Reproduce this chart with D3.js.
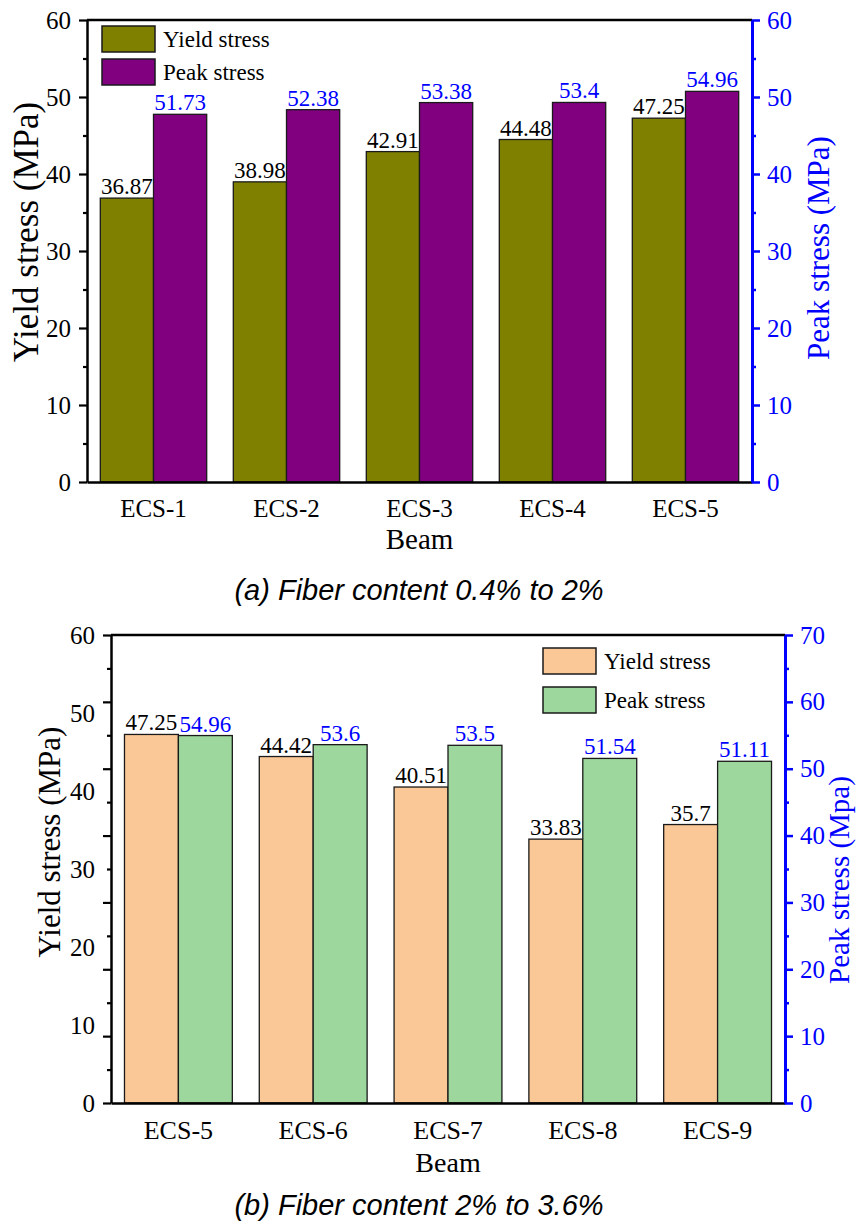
<!DOCTYPE html>
<html>
<head>
<meta charset="utf-8">
<script src="https://cdn.jsdelivr.net/npm/d3@7"></script>
<style>
  html, body { margin: 0; padding: 0; background: #fff; }
  svg { display: block; }
</style>
</head>
<body>
<svg id="chart" width="858" height="1226"></svg>
<script>
// ---------------- DATA ----------------
const categoriesA = ["ECS-1", "ECS-2", "ECS-3", "ECS-4", "ECS-5"];
const yieldA = [36.87, 38.98, 42.91, 44.48, 47.25];
const peakA = [51.73, 52.38, 53.38, 53.4, 54.96];
const leftTicksA = [0, 10, 20, 30, 40, 50, 60];
const rightTicksA = [0, 10, 20, 30, 40, 50, 60];
const peakBarDomainA = [0, 65];   // scale the peak bars were drawn against in (a)

const categoriesB = ["ECS-5", "ECS-6", "ECS-7", "ECS-8", "ECS-9"];
const yieldB = [47.25, 44.42, 40.51, 33.83, 35.7];
const peakB = [54.96, 53.6, 53.5, 51.54, 51.11];
const leftTicksB = [0, 10, 20, 30, 40, 50, 60];
const rightTicksB = [0, 10, 20, 30, 40, 50, 60, 70];

const seriesNames = ["Yield stress", "Peak stress"];
const captionA = "(a) Fiber content 0.4% to 2%";
const captionB = "(b) Fiber content 2% to 3.6%";

// ---------------- DRAW ----------------
const svg = d3.select("#chart");
const SERIF = "'Liberation Serif', 'Times New Roman', serif";
const SANS = "'Liberation Sans', Arial, sans-serif";
const BLUE = "#0000ff";

function minorValues(ticks) {
  const out = [];
  for (let i = 0; i < ticks.length - 1; i++) out.push((ticks[i] + ticks[i + 1]) / 2);
  return out;
}

function drawChart(cfg) {
  const g = svg.append("g");
  const x0 = d3.scaleBand().domain(cfg.categories)
    .range([cfg.left, cfg.right]).paddingInner(0.2).paddingOuter(0.1);
  const x1 = d3.scaleBand().domain([0, 1]).range([0, x0.bandwidth()]);

  const yLeft = d3.scaleLinear().domain([0, d3.max(cfg.leftTicks)]).range([cfg.bottom, cfg.top]);
  const yRight = d3.scaleLinear().domain([0, d3.max(cfg.rightTicks)]).range([cfg.bottom, cfg.top]);
  const yYieldBar = yLeft;
  const yPeakBar = cfg.peakBarDomain
    ? d3.scaleLinear().domain(cfg.peakBarDomain).range([cfg.bottom, cfg.top])
    : yRight;
  const yLeftMarks = cfg.leftMarksFollowRight ? yRight : yLeft;
  const leftMarkTicks = cfg.leftMarksFollowRight ? cfg.rightTicks : cfg.leftTicks;

  // bars
  const groups = g.selectAll("g.grp").data(cfg.categories).join("g")
    .attr("transform", d => `translate(${x0(d)},0)`);
  groups.append("rect")
    .attr("x", x1(0)).attr("width", x1.bandwidth())
    .attr("y", (d, i) => yYieldBar(cfg.yieldVals[i]))
    .attr("height", (d, i) => cfg.bottom - yYieldBar(cfg.yieldVals[i]))
    .attr("fill", cfg.colors[0]).attr("stroke", "#1a1a1a").attr("stroke-width", 1.3);
  groups.append("rect")
    .attr("x", x1(1)).attr("width", x1.bandwidth())
    .attr("y", (d, i) => yPeakBar(cfg.peakVals[i]))
    .attr("height", (d, i) => cfg.bottom - yPeakBar(cfg.peakVals[i]))
    .attr("fill", cfg.colors[1]).attr("stroke", "#1a1a1a").attr("stroke-width", 1.3);

  // value labels
  groups.append("text")
    .attr("x", x1(0) + x1.bandwidth() / 2)
    .attr("y", (d, i) => yYieldBar(cfg.yieldVals[i]) - 4)
    .attr("text-anchor", "middle").attr("font-family", SERIF).attr("font-size", cfg.valueSize)
    .attr("fill", "#000").text((d, i) => cfg.yieldVals[i]);
  groups.append("text")
    .attr("x", x1(1) + x1.bandwidth() / 2)
    .attr("y", (d, i) => yPeakBar(cfg.peakVals[i]) - 4)
    .attr("text-anchor", "middle").attr("font-family", SERIF).attr("font-size", cfg.valueSize)
    .attr("fill", BLUE).text((d, i) => cfg.peakVals[i]);

  // top frame line
  g.append("line").attr("x1", cfg.left).attr("x2", cfg.right)
    .attr("y1", cfg.top).attr("y2", cfg.top)
    .attr("stroke", "#000").attr("stroke-width", 2.5);

  // bottom axis
  const xAxis = g.append("g").attr("transform", `translate(0,${cfg.bottom})`)
    .call(d3.axisBottom(x0).tickSize(0).tickPadding(cfg.xTickPad));
  xAxis.select(".domain").attr("stroke", "#000").attr("stroke-width", 2.5);
  xAxis.selectAll("text").attr("font-family", SERIF).attr("font-size", cfg.catSize).attr("fill", "#000");

  // left axis: marks
  const leftMajor = g.append("g").attr("transform", `translate(${cfg.left},0)`)
    .call(d3.axisLeft(yLeftMarks).tickValues(leftMarkTicks).tickSize(8).tickSizeOuter(0).tickFormat(""));
  leftMajor.selectAll("line").attr("stroke", "#000").attr("stroke-width", 2.2);
  leftMajor.select(".domain").attr("stroke", "#000").attr("stroke-width", 2.5);
  const leftMinor = g.append("g").attr("transform", `translate(${cfg.left},0)`)
    .call(d3.axisLeft(yLeftMarks).tickValues(minorValues(leftMarkTicks)).tickSize(4).tickFormat(""));
  leftMinor.selectAll("line").attr("stroke", "#000").attr("stroke-width", 2.2);
  leftMinor.select(".domain").remove();
  // left axis: labels
  g.append("g").selectAll("text").data(cfg.leftTicks).join("text")
    .attr("x", cfg.left - 16).attr("y", d => yLeft(d)).attr("dy", "0.35em")
    .attr("text-anchor", "end").attr("font-family", SERIF).attr("font-size", cfg.tickSize)
    .attr("fill", "#000").text(d => d);

  // right axis
  const rightMajor = g.append("g").attr("transform", `translate(${cfg.right},0)`)
    .call(d3.axisRight(yRight).tickValues(cfg.rightTicks).tickSize(8).tickSizeOuter(0).tickPadding(7));
  rightMajor.selectAll("line").attr("stroke", BLUE).attr("stroke-width", 2.5);
  rightMajor.select(".domain").attr("stroke", BLUE).attr("stroke-width", 3);
  rightMajor.selectAll("text").attr("font-family", SERIF).attr("font-size", cfg.tickSize).attr("fill", BLUE);
  const rightMinor = g.append("g").attr("transform", `translate(${cfg.right},0)`)
    .call(d3.axisRight(yRight).tickValues(minorValues(cfg.rightTicks)).tickSize(4).tickFormat(""));
  rightMinor.selectAll("line").attr("stroke", BLUE).attr("stroke-width", 2.5);
  rightMinor.select(".domain").remove();

  // axis titles
  g.append("text")
    .attr("transform", `translate(${cfg.leftTitleX},${cfg.leftTitleY}) rotate(-90)`)
    .attr("text-anchor", "middle").attr("font-family", SERIF).attr("font-size", cfg.leftTitleSize)
    .attr("fill", "#000").text("Yield stress (MPa)");
  g.append("text")
    .attr("transform", `translate(${cfg.rightTitleX},${cfg.rightTitleY}) rotate(-90)`)
    .attr("text-anchor", "middle").attr("font-family", SERIF).attr("font-size", cfg.rightTitleSize)
    .attr("fill", BLUE).text(cfg.rightTitle);
  g.append("text")
    .attr("x", (cfg.left + cfg.right) / 2).attr("y", cfg.beamY)
    .attr("text-anchor", "middle").attr("font-family", SERIF).attr("font-size", cfg.beamSize)
    .attr("fill", "#000").text("Beam");

  // legend
  const lg = g.append("g");
  seriesNames.forEach((name, i) => {
    const yy = cfg.legendY + i * cfg.legendStep;
    lg.append("rect").attr("x", cfg.legendX).attr("y", yy)
      .attr("width", 53).attr("height", 26)
      .attr("fill", cfg.colors[i]).attr("stroke", "#1a1a1a").attr("stroke-width", 1.5);
    lg.append("text").attr("x", cfg.legendX + 61).attr("y", yy + 13).attr("dy", "0.35em")
      .attr("font-family", SERIF).attr("font-size", cfg.legendSize).attr("fill", "#000").text(name);
  });

  // caption
  g.append("text").attr("x", 419).attr("y", cfg.captionY)
    .attr("text-anchor", "middle").attr("font-family", SANS).attr("font-style", "italic")
    .attr("font-size", 29).attr("fill", "#000").text(cfg.caption);
}

drawChart({
  categories: categoriesA, yieldVals: yieldA, peakVals: peakA,
  leftTicks: leftTicksA, rightTicks: rightTicksA, peakBarDomain: peakBarDomainA,
  leftMarksFollowRight: false,
  left: 87, right: 752, top: 20, bottom: 482,
  colors: ["#808000", "#800080"],
  valueSize: 23, tickSize: 25, catSize: 25, xTickPad: 17,
  leftTitleSize: 35, rightTitleSize: 31, rightTitle: "Peak stress (MPa)",
  leftTitleX: 38, leftTitleY: 232, rightTitleX: 829, rightTitleY: 248,
  beamY: 549, beamSize: 29,
  legendX: 102, legendY: 26, legendStep: 33, legendSize: 23,
  caption: captionA, captionY: 600
});

drawChart({
  categories: categoriesB, yieldVals: yieldB, peakVals: peakB,
  leftTicks: leftTicksB, rightTicks: rightTicksB, peakBarDomain: null,
  leftMarksFollowRight: true,
  left: 111, right: 785, top: 635, bottom: 1103,
  colors: ["#FAC796", "#9ED79D"],
  valueSize: 23, tickSize: 25, catSize: 26, xTickPad: 18,
  leftTitleSize: 31, rightTitleSize: 29, rightTitle: "Peak stress (Mpa)",
  leftTitleX: 60, leftTitleY: 842, rightTitleX: 849, rightTitleY: 880,
  beamY: 1172, beamSize: 28,
  legendX: 543, legendY: 648, legendStep: 39, legendSize: 23,
  caption: captionB, captionY: 1215
});
</script>
</body>
</html>
